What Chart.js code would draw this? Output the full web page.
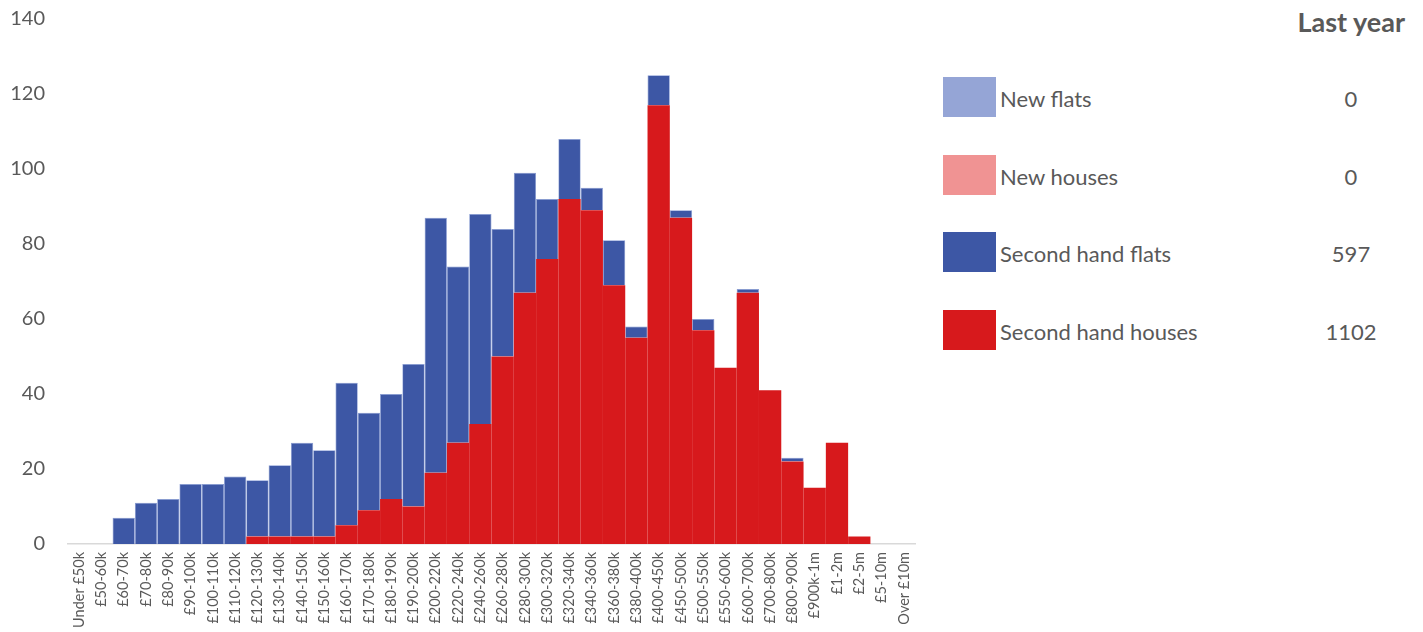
<!DOCTYPE html>
<html>
<head>
<meta charset="utf-8">
<script src="https://cdn.jsdelivr.net/npm/chart.js@4/dist/chart.umd.min.js"></script>
<style>
  html, body { margin: 0; padding: 0; background: #fff; overflow: hidden; }
  body { width: 1423px; height: 632px; position: relative; font-family: Lato, "Open Sans", sans-serif; color: #595959; }
  #wrap { position: absolute; left: 0; top: -16px; width: 930px; height: 648px; }
  .box { position: absolute; left: 943px; width: 53px; height: 40px; }
  .lbl { position: absolute; left: 1000px; font-size: 22px; line-height: 22px; white-space: nowrap; }
  .num { position: absolute; left: 1300px; width: 102px; text-align: center; font-size: 22px; line-height: 22px; }
  #title { position: absolute; right: 18px; top: 8px; font-size: 27px; font-weight: bold; line-height: 27px; }
</style>
</head>
<body>
<div id="wrap"><canvas id="c"></canvas></div>
<div id="title">Last year</div>
<div id="legend"></div>
<script>
const categories = ["Under £50k","£50-60k","£60-70k","£70-80k","£80-90k","£90-100k","£100-110k","£110-120k","£120-130k","£130-140k","£140-150k","£150-160k","£160-170k","£170-180k","£180-190k","£190-200k","£200-220k","£220-240k","£240-260k","£260-280k","£280-300k","£300-320k","£320-340k","£340-360k","£360-380k","£380-400k","£400-450k","£450-500k","£500-550k","£550-600k","£600-700k","£700-800k","£800-900k","£900k-1m","£1-2m","£2-5m","£5-10m","Over £10m"];

const secondHandHouses = [0,0,0,0,0,0,0,0,2,2,2,2,5,9,12,10,19,27,32,50,67,76,92,89,69,55,117,87,57,47,67,41,22,15,27,2,0,0];
const secondHandFlats  = [0,0,7,11,12,16,16,18,15,19,25,23,38,26,28,38,68,47,56,34,32,16,16,6,12,3,8,2,3,0,1,0,1,0,0,0,0,0];
const newHouses        = [0,0,0,0,0,0,0,0,0,0,0,0,0,0,0,0,0,0,0,0,0,0,0,0,0,0,0,0,0,0,0,0,0,0,0,0,0,0];
const newFlats         = [0,0,0,0,0,0,0,0,0,0,0,0,0,0,0,0,0,0,0,0,0,0,0,0,0,0,0,0,0,0,0,0,0,0,0,0,0,0];

const yTicks = [0,20,40,60,80,100,120,140];

const legendNames  = ["New flats","New houses","Second hand flats","Second hand houses"];
const legendTotals = ["0","0","597","1102"];
const legendColors = ["#95A5D6","#F09393","#3D57A5","#D7191C"];

// HTML legend
const legend = document.getElementById('legend');
const boxTops = [77,155,232,310];
legendNames.forEach((n,i)=>{
  const b = document.createElement('div'); b.className='box'; b.style.top = boxTops[i]+'px'; b.style.background = legendColors[i]; legend.appendChild(b);
  const t = document.createElement('div'); t.className='lbl'; t.style.top = (boxTops[i]+11)+'px'; t.textContent = n; legend.appendChild(t);
  const v = document.createElement('div'); v.className='num'; v.style.top = (boxTops[i]+11)+'px'; v.textContent = legendTotals[i]; legend.appendChild(v);
});

const mk = (label, data, color, bw) => ({
  label, data, backgroundColor: color,
  borderColor: 'rgba(120,142,206,0.9)',
  borderWidth: ctx => (ctx.raw ? bw : 0),
  inflateAmount: 0,
  borderSkipped: 'start', barPercentage: 1.0, categoryPercentage: 1.0, stack: 's'
});

new Chart(document.getElementById('c'), {
  type: 'bar',
  data: {
    labels: categories,
    datasets: [
      mk('Second hand houses', secondHandHouses, legendColors[3], 0),
      mk('Second hand flats', secondHandFlats, legendColors[2], 0.7),
      mk('New houses', newHouses, legendColors[1], 0),
      mk('New flats', newFlats, legendColors[0], 0)
    ]
  },
  options: {
    responsive: true,
    maintainAspectRatio: false,
    animation: false,
    devicePixelRatio: 1,
    layout: { autoPadding: false, padding: { top: 19, right: 15, left: 0, bottom: 0 } },
    plugins: { legend: { display: false }, tooltip: { enabled: false } },
    scales: {
      x: {
        stacked: true,
        grid: { display: false, drawTicks: false },
        border: { display: true, color: '#D9D9D9', width: 1.5 },
        ticks: {
          autoSkip: false, minRotation: 90, maxRotation: 90, padding: 8,
          color: '#595959', font: { family: 'Lato', size: 14.5 }
        },
        afterFit: s => { s.height = 88; }
      },
      y: {
        stacked: true,
        min: 0, max: 140,
        afterBuildTicks: s => { s.ticks = yTicks.map(v => ({ value: v })); },
        grid: { display: false, drawTicks: false },
        border: { display: false },
        ticks: { padding: 23, color: '#595959', font: { family: 'Lato', size: 20 } },
        afterFit: s => { s.width = 68; }
      }
    }
  }
});
</script>
</body>
</html>
